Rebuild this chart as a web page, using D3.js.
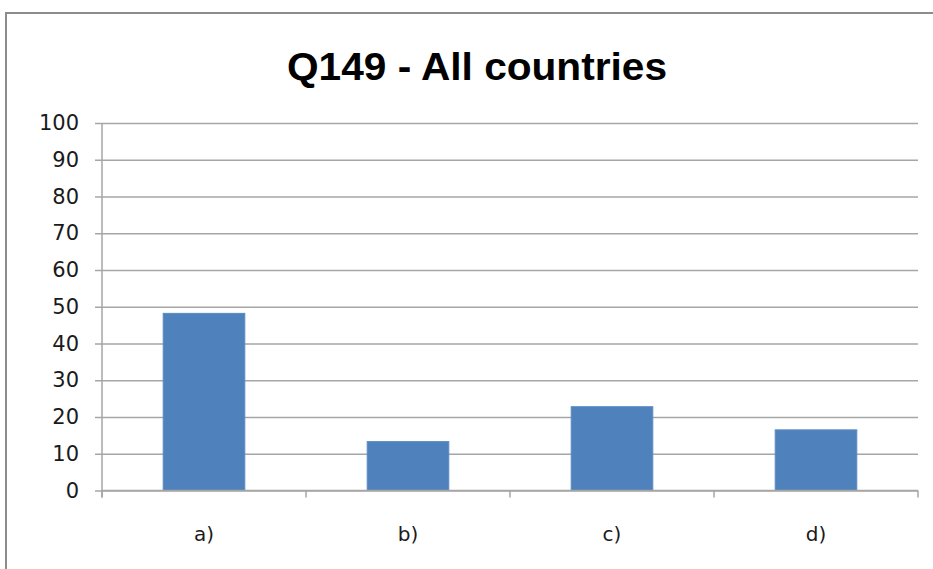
<!DOCTYPE html>
<html>
<head>
<meta charset="utf-8">
<script src="https://cdn.jsdelivr.net/npm/d3@7"></script>
<style>
  body { margin: 0; background: #fff; }
  svg { display: block; }
</style>
</head>
<body>
<div id="chart"></div>
<script>
/////////////////////////////////////
///      DATA
/////////////////////////////////////
var categories = ["a)", "b)", "c)", "d)"];
var values = [48.2, 13.3, 22.8, 16.5];
var yTicks = [0, 10, 20, 30, 40, 50, 60, 70, 80, 90, 100];
var chartTitle = "Q149 - All countries";

var W = 933, H = 569;
var margin = {top: 123, right: 15, bottom: 78, left: 102};

var svg = d3.select("#chart").append("svg")
   .attr("width", W)
   .attr("height", H);

// outer frame (runs off the right/bottom edge)
svg.append("rect")
   .attr("x", 6).attr("y", 13)
   .attr("width", W + 20).attr("height", H + 20)
   .attr("fill", "#fff")
   .attr("stroke", "#8c8c8c")
   .attr("stroke-width", 2);

svg.append("text")
   .attr("x", 477)
   .attr("y", 80)
   .attr("text-anchor", "middle")
   .attr("font-family", "Liberation Sans, Arial, sans-serif")
   .attr("font-weight", "bold")
   .attr("font-size", 38)
   .attr("textLength", 380)
   .attr("lengthAdjust", "spacingAndGlyphs")
   .attr("fill", "#000")
   .text(chartTitle);

var x = d3.scaleBand()
   .domain(categories)
   .range([margin.left, 918])
   .paddingInner(0.6)
   .paddingOuter(0.3);

var y = d3.scaleLinear()
   .domain([0, 100])
   .range([490.5, margin.top]);

// gridlines + left ticks
var yAxis = svg.append("g")
   .attr("transform", "translate(" + margin.left + ",0)")
   .call(d3.axisLeft(y).tickValues(yTicks).tickSize(-(918 - margin.left)).tickSizeOuter(0).tickPadding(23));
yAxis.select(".domain").remove();
yAxis.selectAll(".tick line")
   .attr("x1", -7)
   .attr("stroke", "#a6a6a6")
   .attr("stroke-width", 1.5);
yAxis.selectAll(".tick text")
   .attr("font-family", "DejaVu Sans, sans-serif")
   .attr("font-size", 21)
   .attr("fill", "#1a1a1a");

// vertical axis line
svg.append("line")
   .attr("x1", margin.left).attr("x2", margin.left)
   .attr("y1", y(100)).attr("y2", y(0) + 7)
   .attr("stroke", "#a6a6a6")
   .attr("stroke-width", 1.5);

// bars
svg.selectAll("rect.bar")
   .data(values)
   .enter().append("rect")
   .attr("class", "bar")
   .attr("x", function(d, i) { return x(categories[i]); })
   .attr("y", function(d) { return y(d); })
   .attr("width", x.bandwidth())
   .attr("height", function(d) { return y(0) - y(d); })
   .attr("fill", "#4f81bd")
   .attr("stroke", "#5a8ac4")
   .attr("stroke-width", 1);

// x axis
var xAxis = svg.append("g")
   .attr("transform", "translate(0," + y(0) + ")");
xAxis.append("line")
   .attr("x1", margin.left).attr("x2", 918)
   .attr("stroke", "#a6a6a6")
   .attr("stroke-width", 1.5);
var boundaries = d3.range(categories.length + 1).map(function(i) { return margin.left + i * (918 - margin.left) / categories.length; });
xAxis.selectAll("line.tk")
   .data(boundaries)
   .enter().append("line")
   .attr("class", "tk")
   .attr("x1", function(d) { return d; }).attr("x2", function(d) { return d; })
   .attr("y1", 0).attr("y2", 7)
   .attr("stroke", "#a6a6a6")
   .attr("stroke-width", 1.5);
xAxis.selectAll("text")
   .data(categories)
   .enter().append("text")
   .attr("x", function(d) { return x(d) + x.bandwidth() / 2; })
   .attr("y", 50)
   .attr("text-anchor", "middle")
   .attr("font-family", "DejaVu Sans, sans-serif")
   .attr("font-size", 20)
   .attr("fill", "#1a1a1a")
   .text(function(d) { return d; });
</script>
</body>
</html>
